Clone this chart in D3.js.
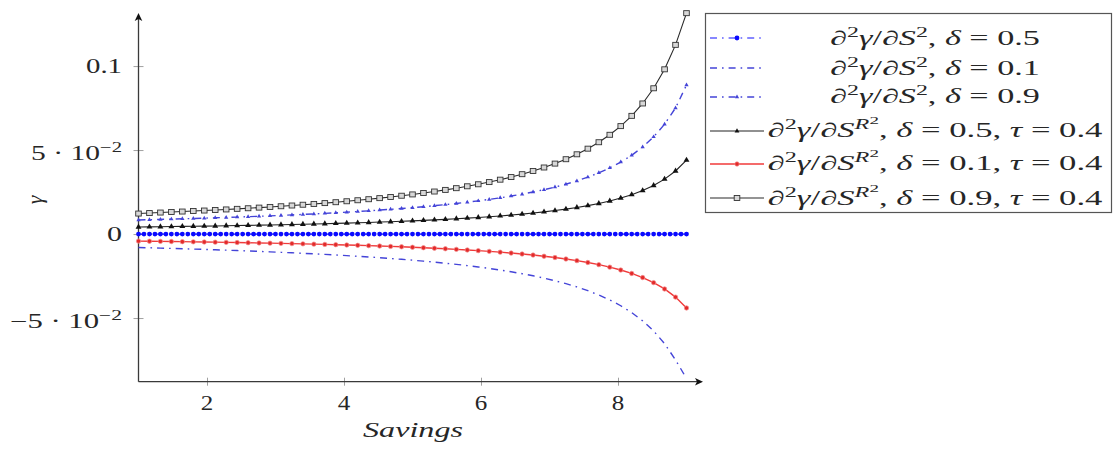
<!DOCTYPE html>
<html>
<head>
<meta charset="utf-8">
<script src="https://cdn.jsdelivr.net/npm/d3@7"></script>
<style>
  html, body { margin: 0; padding: 0; background: #fff; }
  svg { display: block; }
  text { white-space: pre; }
</style>
</head>
<body>
<svg id="chart" width="1113" height="449"></svg>
<script>
// Sample points along the Savings axis (coarse grid for the marked curves)
const savings = [1, 1.16, 1.32, 1.48, 1.64, 1.8, 1.96, 2.12, 2.28, 2.44, 2.6, 2.76, 2.92, 3.08, 3.24, 3.4,
  3.56, 3.72, 3.88, 4.04, 4.2, 4.36, 4.52, 4.68, 4.84, 5, 5.16, 5.32, 5.48, 5.64, 5.8, 5.96, 6.12, 6.28,
  6.44, 6.6, 6.76, 6.92, 7.08, 7.24, 7.4, 7.56, 7.72, 7.88, 8.04, 8.2, 8.36, 8.52, 8.68, 8.84, 9];

// Finer grid used by the delta = 0.5 curve
const savingsFine = [1, 1.08, 1.16, 1.24, 1.32, 1.4, 1.48, 1.56, 1.64, 1.72, 1.8, 1.88, 1.96, 2.04, 2.12,
  2.2, 2.28, 2.36, 2.44, 2.52, 2.6, 2.68, 2.76, 2.84, 2.92, 3, 3.08, 3.16, 3.24, 3.32, 3.4, 3.48, 3.56,
  3.64, 3.72, 3.8, 3.88, 3.96, 4.04, 4.12, 4.2, 4.28, 4.36, 4.44, 4.52, 4.6, 4.68, 4.76, 4.84, 4.92, 5,
  5.08, 5.16, 5.24, 5.32, 5.4, 5.48, 5.56, 5.64, 5.72, 5.8, 5.88, 5.96, 6.04, 6.12, 6.2, 6.28, 6.36,
  6.44, 6.52, 6.6, 6.68, 6.76, 6.84, 6.92, 7, 7.08, 7.16, 7.24, 7.32, 7.4, 7.48, 7.56, 7.64, 7.72, 7.8,
  7.88, 7.96, 8.04, 8.12, 8.2, 8.28, 8.36, 8.44, 8.52, 8.6, 8.68, 8.76, 8.84, 8.92, 9];

// d2 gamma / dS2, delta = 0.5 (on the fine grid)
const dSS_d05 = [0, 0, 0, 0, 0, 0, 0, 0, 0, 0, 0, 0, 0, 0, 0, 0, 0, 0, 0, 0, 0, 0, 0, 0, 0, 0, 0, 0, 0, 0,
  0, 0, 0, 0, 0, 0, 0, 0, 0, 0, 0, 0, 0, 0, 0, 0, 0, 0, 0, 0, 0, 0, 0, 0, 0, 0, 0, 0, 0, 0, 0, 0, 0, 0,
  0, 0, 0, 0, 0, 0, 0, 0, 0, 0, 0, 0, 0, 0, 0, 0, 0, 0, 0, 0, 0, 0, 0, 0, 0, 0, 0, 0, 0, 0, 0, 0, 0, 0,
  0, 0, 0];

// d2 gamma / dS2, delta = 0.1
const dSS_d01 = [-0.00800, -0.00818, -0.00836, -0.00855, -0.00874, -0.00894, -0.00915, -0.00937,
  -0.00960, -0.00983, -0.01008, -0.01033, -0.01060, -0.01088, -0.01117, -0.01147, -0.01179, -0.01213,
  -0.01248, -0.01285, -0.01324, -0.01365, -0.01409, -0.01455, -0.01504, -0.01556, -0.01612, -0.01672,
  -0.01736, -0.01805, -0.01879, -0.01959, -0.02047, -0.02142, -0.02246, -0.02360, -0.02485, -0.02625,
  -0.02780, -0.02954, -0.03149, -0.03373, -0.03628, -0.03923, -0.04268, -0.04675, -0.05167, -0.05770,
  -0.06522, -0.07493, -0.08600];

// d2 gamma / dS2, delta = 0.9
const dSS_d09 = [0.00838, 0.00855, 0.00872, 0.00889, 0.00907, 0.00926, 0.00946, 0.00966, 0.00988,
  0.01010, 0.01034, 0.01058, 0.01084, 0.01111, 0.01139, 0.01168, 0.01199, 0.01232, 0.01267, 0.01303,
  0.01342, 0.01382, 0.01426, 0.01472, 0.01520, 0.01572, 0.01628, 0.01688, 0.01752, 0.01821, 0.01895,
  0.01975, 0.02063, 0.02158, 0.02262, 0.02376, 0.02501, 0.02641, 0.02796, 0.02970, 0.03165, 0.03389,
  0.03644, 0.03939, 0.04284, 0.04691, 0.05183, 0.05786, 0.06538, 0.07509, 0.08870];

// d2 gamma / dS^{R2}, tau = 0.4, delta = 0.5
const dSR_d05 = [0.00419, 0.00427, 0.00436, 0.00445, 0.00454, 0.00463, 0.00473, 0.00483, 0.00494,
  0.00505, 0.00517, 0.00529, 0.00542, 0.00555, 0.00569, 0.00584, 0.00600, 0.00616, 0.00633, 0.00652,
  0.00671, 0.00691, 0.00713, 0.00736, 0.00760, 0.00786, 0.00814, 0.00844, 0.00876, 0.00910, 0.00948,
  0.00988, 0.01031, 0.01079, 0.01131, 0.01188, 0.01251, 0.01321, 0.01398, 0.01485, 0.01583, 0.01694,
  0.01822, 0.01970, 0.02142, 0.02345, 0.02591, 0.02893, 0.03269, 0.03754, 0.04400];

// d2 gamma / dS^{R2}, tau = 0.4, delta = 0.1
const dSR_d01 = [-0.00419, -0.00427, -0.00436, -0.00445, -0.00454, -0.00463, -0.00473, -0.00483,
  -0.00494, -0.00505, -0.00517, -0.00529, -0.00542, -0.00555, -0.00569, -0.00584, -0.00600, -0.00616,
  -0.00633, -0.00652, -0.00671, -0.00691, -0.00713, -0.00736, -0.00760, -0.00786, -0.00814, -0.00844,
  -0.00876, -0.00910, -0.00948, -0.00988, -0.01031, -0.01079, -0.01131, -0.01188, -0.01251, -0.01321,
  -0.01398, -0.01485, -0.01583, -0.01694, -0.01822, -0.01970, -0.02142, -0.02345, -0.02591, -0.02893,
  -0.03269, -0.03754, -0.04400];

// d2 gamma / dS^{R2}, tau = 0.4, delta = 0.9
const dSR_d09 = [0.01220, 0.01250, 0.01280, 0.01310, 0.01340, 0.01370, 0.01400, 0.01432, 0.01465,
  0.01500, 0.01536, 0.01574, 0.01614, 0.01655, 0.01699, 0.01745, 0.01793, 0.01843, 0.01896, 0.01952,
  0.02012, 0.02074, 0.02138, 0.02207, 0.02281, 0.02359, 0.02442, 0.02532, 0.02628, 0.02731, 0.02843,
  0.02963, 0.03094, 0.03237, 0.03393, 0.03564, 0.03752, 0.03962, 0.04194, 0.04455, 0.04748, 0.05083,
  0.05466, 0.05909, 0.06426, 0.07036, 0.07774, 0.08678, 0.09807, 0.11263, 0.13150];

const xTicks = [2, 4, 6, 8];
const yTicks = [-0.05, 0, 0.05, 0.1];
const yTickLabels = ["−5 · 10^{−2}", "0", "5 · 10^{−2}", "0.1"];
const xLabel = "Savings";
const yLabel = "γ";
const legendLabels = [
  "∂^2γ/∂S^2, δ = 0.5",
  "∂^2γ/∂S^2, δ = 0.1",
  "∂^2γ/∂S^2, δ = 0.9",
  "∂^2γ/∂S^{R^2}, δ = 0.5, τ = 0.4",
  "∂^2γ/∂S^{R^2}, δ = 0.1, τ = 0.4",
  "∂^2γ/∂S^{R^2}, δ = 0.9, τ = 0.4"
];

const FONT = "'Liberation Serif', 'DejaVu Serif', serif";
const svg = d3.select("#chart");

const x = d3.scaleLinear().domain([1, 9]).range([138.5, 686.5]);
const y = d3.scaleLinear().domain([-0.0879, 0.131]).range([381.7, 14]);

// ---------- math-ish text with superscripts ----------
function parseMath(str, lvl = 0, out = []) {
  let i = 0;
  while (i < str.length) {
    const c = str[i];
    if (c === "^") {
      i++;
      let grp;
      if (str[i] === "{") {
        let depth = 1, j = i + 1;
        while (depth > 0 && j < str.length) {
          if (str[j] === "{") depth++;
          else if (str[j] === "}") depth--;
          j++;
        }
        grp = str.slice(i + 1, j - 1);
        i = j;
      } else {
        grp = str[i];
        i++;
      }
      parseMath(grp, lvl + 1, out);
    } else {
      out.push({ t: c, lvl });
      i++;
    }
  }
  return out;
}

function runs(str) {
  const chars = parseMath(str);
  const res = [];
  for (const ch of chars) {
    const it = /[A-Za-zγδτ]/.test(ch.t);
    const last = res[res.length - 1];
    if (last && last.lvl === ch.lvl && last.it === it) last.t += ch.t;
    else res.push({ t: ch.t, lvl: ch.lvl, it });
  }
  return res;
}

const LVL_OFF = [0, -0.42, -0.66];
const LVL_SIZE = [1, 0.7, 0.55];

// Draws a label at (px, py); `width` stretches it horizontally to that width.
function drawMath(parent, str, opt) {
  const size = opt.size || 20;
  const g = parent.append("g");
  const t = g.append("text")
    .attr("text-anchor", opt.anchor || "start")
    .attr("fill", opt.fill || "#262626")
    .style("font-family", FONT)
    .style("font-size", size + "px");
  let cur = 0;
  for (const r of runs(str)) {
    const target = LVL_OFF[r.lvl] * size;
    t.append("tspan")
      .attr("dy", (target - cur).toFixed(2))
      .style("font-size", (LVL_SIZE[r.lvl] * size) + "px")
      .style("font-style", (opt.italic || r.it) ? "italic" : "normal")
      .text(r.t);
    cur = target;
  }
  let s = opt.sx || 1;
  if (opt.width) s = opt.width / t.node().getBBox().width;
  g.attr("transform", `translate(${opt.x},${opt.y}) scale(${s},1)` + (opt.rotate ? ` rotate(${opt.rotate})` : ""));
  return g;
}

// ---------- axes ----------
const axisColor = "#3a3a3a";
const tickColor = "#a0a0a0";

const gx = svg.append("g").attr("transform", `translate(0,${y.range()[0]})`)
  .call(d3.axisBottom(x).tickValues(xTicks).tickSize(0).tickFormat(""));
gx.select(".domain").remove();
gx.selectAll(".tick line").attr("y1", -4).attr("y2", 4).attr("stroke", tickColor).attr("stroke-width", 1);

const gy = svg.append("g").attr("transform", `translate(${x.range()[0]},0)`)
  .call(d3.axisLeft(y).tickValues(yTicks).tickSize(0).tickFormat(""));
gy.select(".domain").remove();
gy.selectAll(".tick line").attr("x1", -5).attr("x2", 5).attr("stroke", tickColor).attr("stroke-width", 1);

// axis lines with arrow heads
const x0 = x.range()[0], yb = y.range()[0];
svg.append("line").attr("x1", x0).attr("y1", yb).attr("x2", 697).attr("y2", yb)
  .attr("stroke", axisColor).attr("stroke-width", 1.3);
svg.append("line").attr("x1", x0).attr("y1", yb).attr("x2", x0).attr("y2", 19)
  .attr("stroke", axisColor).attr("stroke-width", 1.3);
svg.append("path").attr("d", `M703,${yb} L695,${yb - 3.8} L697,${yb} L695,${yb + 3.8} Z`).attr("fill", "#111");
svg.append("path").attr("d", `M${x0},13 L${x0 - 3.8},21 L${x0},19 L${x0 + 3.8},21 Z`).attr("fill", "#111");

// tick labels
xTicks.forEach(v => drawMath(svg, String(v), { x: x(v), y: 410, size: 20, anchor: "middle", sx: 1.25 }));
const yLabelWidths = [112, 15, 91, 36];
yTicks.forEach((v, i) => {
  const hasSup = yTickLabels[i].includes("^");
  drawMath(svg, yTickLabels[i], { x: 122, y: y(v) + (hasSup ? 10 : 7), size: 20, anchor: "end", width: yLabelWidths[i] });
});

// axis titles
drawMath(svg, xLabel, { x: 413, y: 437, size: 22, anchor: "middle", italic: true, width: 100 });
drawMath(svg, yLabel, { x: 42, y: 200, size: 22, anchor: "middle", italic: true, rotate: -90 });

// ---------- series ----------
const line = d3.line().x(d => x(d[0])).y(d => y(d[1]));
const zip = (xs, ys) => xs.map((v, i) => [v, ys[i]]);

const blueDash = "#4444d8";
const dashDot = "7 5 1.6 5";

const series = [
  { data: zip(savingsFine, dSS_d05), stroke: "#1010ff", width: 1.2, dash: dashDot, marker: "dot", mfill: "#0a0aff", r: 2.4 },
  { data: zip(savings, dSS_d01), stroke: blueDash, width: 1.4, dash: dashDot, marker: null },
  { data: zip(savings, dSS_d09), stroke: blueDash, width: 1.4, dash: dashDot, marker: "tri", mfill: blueDash, size: 8 },
  { data: zip(savings, dSR_d05), stroke: "#222", width: 1.1, dash: null, marker: "tri", mfill: "#111", size: 15 },
  { data: zip(savings, dSR_d01), stroke: "#f03a3a", width: 1.4, dash: null, marker: "dot", mfill: "#e32a2a", r: 2.2, mstroke: "#f29090" },
  { data: zip(savings, dSR_d09), stroke: "#2a2a2a", width: 1.1, dash: null, marker: "sq", mfill: "#d8d8d8", mstroke: "#333" }
];

function drawMarkers(g, pts, s) {
  if (s.marker === "dot") {
    g.selectAll("circle").data(pts).join("circle")
      .attr("cx", d => d[0]).attr("cy", d => d[1]).attr("r", s.r)
      .attr("fill", s.mfill)
      .attr("stroke", s.mstroke || "none").attr("stroke-width", 0.7);
  } else if (s.marker === "tri") {
    const sym = d3.symbol(d3.symbolTriangle, s.size);
    g.selectAll("path.m").data(pts).join("path").attr("class", "m")
      .attr("d", sym).attr("transform", d => `translate(${d[0]},${d[1]})`)
      .attr("fill", s.mfill);
  } else if (s.marker === "sq") {
    g.selectAll("rect").data(pts).join("rect")
      .attr("x", d => d[0] - 2.8).attr("y", d => d[1] - 2.5)
      .attr("width", 5.6).attr("height", 5)
      .attr("fill", s.mfill).attr("stroke", s.mstroke).attr("stroke-width", 0.9);
  }
}

series.forEach(s => {
  const g = svg.append("g");
  g.append("path").attr("d", line(s.data)).attr("fill", "none")
    .attr("stroke", s.stroke).attr("stroke-width", s.width)
    .attr("stroke-dasharray", s.dash);
  if (s.marker) drawMarkers(g, s.data.map(d => [x(d[0]), y(d[1])]), s);
});

// ---------- legend ----------
const legend = svg.append("g");
legend.append("rect").attr("x", 705.5).attr("y", 13.5).attr("width", 406).attr("height", 199)
  .attr("fill", "#fff").attr("stroke", "#555").attr("stroke-width", 1.2);

const rowLineY = [38, 68, 97, 131, 164, 198];
const rowBase = [45, 75, 103, 137, 170, 205];
const rowWidth = [210, 210, 210, 335, 335, 335];

series.forEach((s, i) => {
  const ly = rowLineY[i];
  const g = legend.append("g");
  g.append("line").attr("x1", 710).attr("x2", 764).attr("y1", ly).attr("y2", ly)
    .attr("stroke", s.stroke).attr("stroke-width", s.width).attr("stroke-dasharray", s.dash);
  if (s.marker) drawMarkers(g, [[737, ly]], Object.assign({}, s, s.marker === "tri" && s.size > 10 ? { size: 10 } : {}));
  drawMath(legend, legendLabels[i], { x: 935, y: rowBase[i], size: 20, anchor: "middle", width: rowWidth[i] });
});
</script>
</body>
</html>
